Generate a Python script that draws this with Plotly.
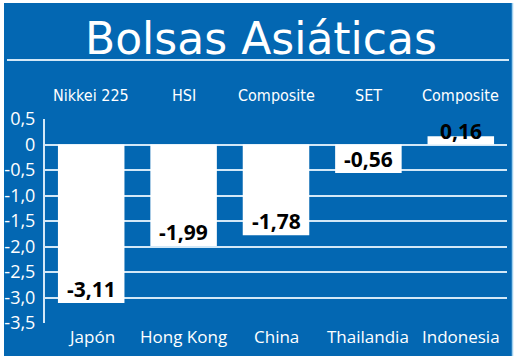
import plotly.graph_objects as go

countries = ["Japón", "Hong Kong", "China", "Thailandia", "Indonesia"]
indices = ["Nikkei 225", "HSI", "Composite", "SET", "Composite"]
values = [-3.11, -1.99, -1.78, -0.56, 0.16]
tick_vals = [0.5, 0, -0.5, -1.0, -1.5, -2.0, -2.5, -3.0, -3.5]
tick_text = ["0,5", "0", "-0,5", "-1,0", "-1,5", "-2,0", "-2,5", "-3,0", "-3,5"]
title = "Bolsas Asiáticas"

BLUE = "#0367b2"
GRID = "#d3e8f7"
W, H = 520, 356
L, R, T, B = 45, 13, 119, 33
pw, ph = W - L - R, H - T - B

def px(x):
    return (x - L) / pw

def py(y):
    return (H - B - y) / ph

fig = go.Figure()
fig.add_trace(go.Bar(
    x=countries, y=values, marker=dict(color="white", line=dict(width=0)),
    hoverinfo="skip", showlegend=False,
))

ann = []
for c, idx, v in zip(countries, indices, values):
    ann.append(dict(
        x=c, y=min(v, 0), xref="x", yref="y", yanchor="bottom", yshift=-2,
        text=f"{v:.2f}".replace(".", ","), showarrow=False,
        font=dict(family="Open Sans", size=21, color="black", weight="bold"),
    ))
    ann.append(dict(
        x=c, y=py(95), xref="x", yref="paper", yanchor="middle",
        text=idx, showarrow=False,
        font=dict(family="DejaVu Sans Condensed, sans-serif", size=16, color="white"),
    ))
    ann.append(dict(
        x=c, y=py(336), xref="x", yref="paper", yanchor="middle",
        text=c, showarrow=False,
        font=dict(family="Open Sans", size=17, color="white"),
    ))
ann.append(dict(
    x=px(261), y=py(38), xref="paper", yref="paper", xanchor="center", yanchor="middle",
    text=title, showarrow=False,
    font=dict(family="DejaVu Sans", size=44, color="white"),
))

shapes = [
    dict(type="rect", xref="paper", yref="paper", layer="below",
         x0=px(4), x1=px(512), y0=py(358), y1=py(3),
         fillcolor=BLUE, line=dict(width=0)),
    dict(type="line", xref="paper", yref="paper", layer="below",
         x0=px(512.5), x1=px(512.5), y0=py(358), y1=py(3),
         line=dict(color="#9fd0f0", width=1.5)),
    dict(type="line", xref="paper", yref="paper",
         x0=px(7), x1=px(509), y0=py(60), y1=py(60),
         line=dict(color=GRID, width=2)),
]

fig.update_layout(
    width=W, height=H,
    margin=dict(l=L, r=R, t=T, b=B, pad=0),
    paper_bgcolor="white", plot_bgcolor=BLUE,
    bargap=0.28,
    annotations=ann, shapes=shapes,
    xaxis=dict(showticklabels=False, showgrid=False, zeroline=False,
               showline=False, fixedrange=True, automargin=False),
    yaxis=dict(range=[-3.5, 0.5], tickvals=tick_vals, ticktext=tick_text,
               showgrid=True, gridcolor=GRID, gridwidth=2,
               zeroline=True, zerolinecolor=GRID, zerolinewidth=2,
               showline=True, linecolor=GRID, linewidth=2,
               ticks="", ticklabelstandoff=4, automargin=False,
               tickfont=dict(family="Open Sans", size=18, color="white"),
               fixedrange=True),
)

fig.write_html("out.html")
